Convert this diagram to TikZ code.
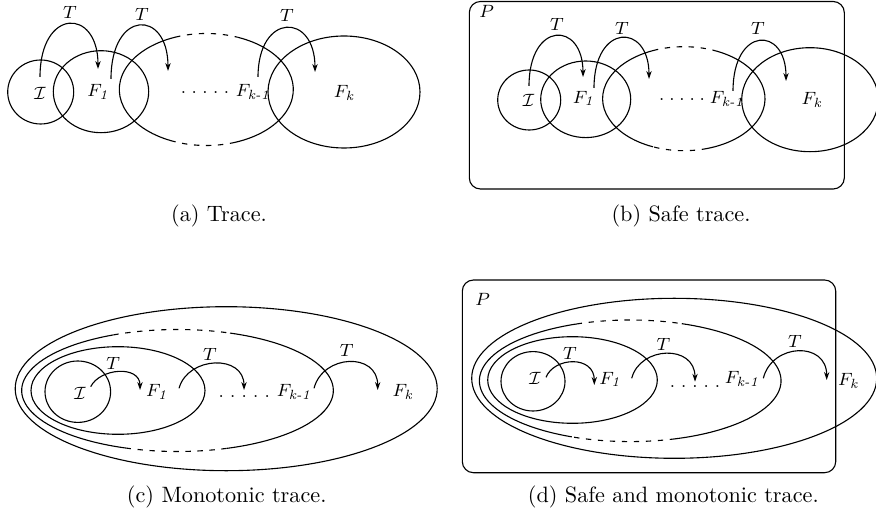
\documentclass[tikz,border=0pt]{standalone}
\usepackage{amsmath}
\usetikzlibrary{arrows.meta}
\newcommand\dellipse[8]{%
 \draw[dsh] (#1,#2) ++(#7:#3 and #4) arc[start angle=#7,end angle=#8,x radius=#3,y radius=#4];
 \draw (#1,#2) ++(#8:#3 and #4) arc[start angle=#8,end angle=#5,x radius=#3,y radius=#4];
 \draw[dsh] (#1,#2) ++(#5:#3 and #4) arc[start angle=#5,end angle=#6,x radius=#3,y radius=#4];
 \draw (#1,#2) ++(#6:#3 and #4) arc[start angle=#6,end angle=#7+360,x radius=#3,y radius=#4];
}
\newcommand\dotrow[1]{.\hspace{#1}.\hspace{#1}.\hspace{#1}.\hspace{#1}.}
\begin{document}
\begin{tikzpicture}[x=0.45pt,y=-0.45pt, line width=0.5pt,
  lbl/.style={font=\footnotesize, inner sep=0pt},
  arr/.style={-{Stealth[length=3.6pt,width=2.4pt]}},
  dsh/.style={dash pattern=on 2.4pt off 3pt},
  pbox/.style={rounded corners=5pt},
  capt/.style={font=\normalsize, inner sep=0pt}]
\useasboundingbox (0,0) rectangle (876,520);

%% ---------------- (a) ----------------
\draw (40.7,92) ellipse [x radius=33, y radius=32];
\draw (101,91.7) ellipse [x radius=47.7, y radius=41];
\dellipse{206.3}{89.5}{87}{56}{249}{291}{70.7}{111}
\draw (344,92) ellipse [x radius=76, y radius=56];
\node[lbl] (aI) at (40,93) {$\mathcal{I}$};
\node[lbl] (aF1) at (98,92) {$F_{\textit{1}}$};
\node[lbl] (adots) at (205,92.7) {\dotrow{2.5pt}};
\node[lbl] (aFk1) at (253,92) {$F_{\textit{k-1}}$};
\node[lbl] (aFk) at (344,93) {$F_{\textit{k}}$};
\coordinate (a1s) at (40,77);  \coordinate (a1e) at (98,69);
\coordinate (a2s) at (111,79); \coordinate (a2e) at (168,71);
\coordinate (a3s) at (258,77); \coordinate (a3e) at (315,72);
\draw[arr] (a1s) .. controls (40,7.5) and (98,7.5) .. (a1e);
\draw[arr] (a2s) .. controls (111,9) and (168,9) .. (a2e);
\draw[arr] (a3s) .. controls (258,12.3) and (315,12.3) .. (a3e);
\node[lbl] (aT1) at (70,12) {$T$};
\node[lbl] (aT2) at (142,14) {$T$};
\node[lbl] (aT3) at (287,15) {$T$};
\node[capt] (capa) at (219,216) {(a) Trace.};

%% ---------------- (b) ----------------
\draw[pbox] (469.3,1.5) rectangle (844.3,189);
\node[lbl] (bP) at (486.7,11.7) {$P$};
\draw (529.2,100) ellipse [x radius=31.5, y radius=30];
\draw (585.7,99.3) ellipse [x radius=45, y radius=38.3];
\dellipse{683.8}{98.7}{81.2}{52}{247.7}{294.1}{73.4}{112.3}
\draw (810,99.7) ellipse [x radius=68.3, y radius=52];
\node[lbl] (bI) at (528.3,100) {$\mathcal{I}$};
\node[lbl] (bF1) at (583.3,98.3) {$F_{\textit{1}}$};
\node[lbl] (bdots) at (682,99.3) {\dotrow{2.2pt}};
\node[lbl] (bFk1) at (727,99.3) {$F_{\textit{k-1}}$};
\node[lbl] (bFk) at (811.7,100) {$F_{\textit{k}}$};
\coordinate (b1s) at (529,86);  \coordinate (b1e) at (583,77);
\coordinate (b2s) at (594,88);  \coordinate (b2e) at (649,79);
\coordinate (b3s) at (733,91);  \coordinate (b3e) at (786,81);
\draw[arr] (b1s) .. controls (529,20.7) and (583,20.7) .. (b1e);
\draw[arr] (b2s) .. controls (594,22.7) and (649,22.7) .. (b2e);
\draw[arr] (b3s) .. controls (733,25.9) and (786,25.9) .. (b3e);
\node[lbl] (bT1) at (557,24) {$T$};
\node[lbl] (bT2) at (622,28) {$T$};
\node[lbl] (bT3) at (758,28) {$T$};
\node[capt] (capb) at (681,216) {(b) Safe trace.};

%% ---------------- (c) ----------------
\draw (226.2,388.7) ellipse [x radius=211, y radius=82];
\dellipse{177.5}{390.5}{155.8}{61}{245.7}{289.7}{71.6}{109}
\draw (118,390.5) ellipse [x radius=87, y radius=43.8];
\draw (77.8,391.7) ellipse [x radius=32.8, y radius=30.7];
\node[lbl] (cI) at (80,393.3) {$\mathcal{I}$};
\node[lbl] (cF1) at (156.7,391.7) {$F_{\textit{1}}$};
\node[lbl] (cdots) at (244.2,396.7) {\dotrow{2.8pt}};
\node[lbl] (cFk1) at (294,391.7) {$F_{\textit{k-1}}$};
\node[lbl] (cFk) at (402.7,391.7) {$F_{\textit{k}}$};
\coordinate (c1s) at (90.7,386.7);  \coordinate (c1e) at (140,390);
\coordinate (c2s) at (179,388.3);   \coordinate (c2e) at (244,390);
\coordinate (c3s) at (314,388.3);   \coordinate (c3e) at (377.7,390);
\draw[arr] (c1s) .. controls (100,368) and (140,365) .. (c1e);
\draw[arr] (c2s) .. controls (188,356) and (244,354) .. (c2e);
\draw[arr] (c3s) .. controls (323,354) and (377.7,352) .. (c3e);
\node[lbl] (cT1) at (113.3,363.3) {$T$};
\node[lbl] (cT2) at (210,354) {$T$};
\node[lbl] (cT3) at (346.7,350) {$T$};
\node[capt] (capc) at (226.7,496.7) {(c) Monotonic trace.};

%% ---------------- (d) ----------------
\draw[pbox] (462.3,280) rectangle (835.7,472.7);
\node[lbl] (dP) at (482.7,299.3) {$P$};
\draw (674.2,378.3) ellipse [x radius=202.5, y radius=80];
\dellipse{630.2}{380.8}{150.8}{60.8}{249.2}{290}{72.7}{112.8}
\draw (572.5,380) ellipse [x radius=84.8, y radius=43.3];
\draw (533,381.3) ellipse [x radius=32, y radius=29.7];
\node[lbl] (dI) at (535,378.3) {$\mathcal{I}$};
\node[lbl] (dF1) at (610,379.3) {$F_{\textit{1}}$};
\node[lbl] (ddots) at (695,386.7) {\dotrow{2.7pt}};
\node[lbl] (dFk1) at (742,379.3) {$F_{\textit{k-1}}$};
\node[lbl] (dFk) at (848.3,380.7) {$F_{\textit{k}}$};
\coordinate (d1s) at (546,377.3);   \coordinate (d1e) at (594.3,385);
\coordinate (d2s) at (631.7,378.3); \coordinate (d2e) at (695,381.7);
\coordinate (d3s) at (763.3,378.3); \coordinate (d3e) at (826.7,380);
\draw[arr] (d1s) .. controls (554,357) and (594.3,355) .. (d1e);
\draw[arr] (d2s) .. controls (640,346) and (695,344) .. (d2e);
\draw[arr] (d3s) .. controls (772,343) and (826.7,341) .. (d3e);
\node[lbl] (dT1) at (570,353.3) {$T$};
\node[lbl] (dT2) at (663.3,344) {$T$};
\node[lbl] (dT3) at (795,341.7) {$T$};
\node[capt] (capd) at (673.3,497.3) {(d) Safe and monotonic trace.};
\end{tikzpicture}
\end{document}
